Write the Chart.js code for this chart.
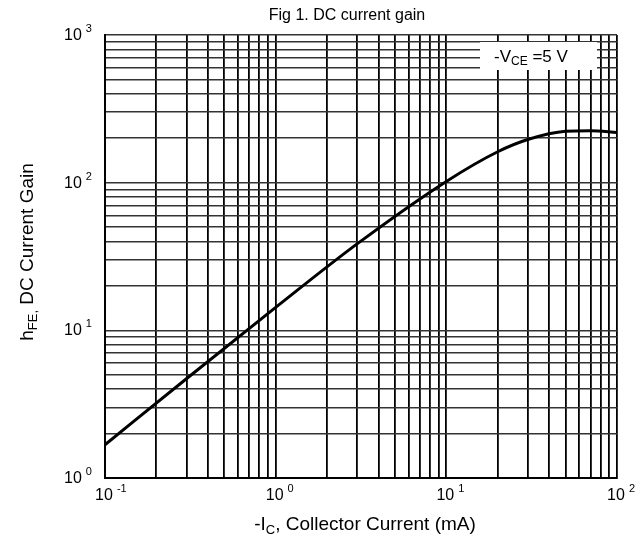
<!DOCTYPE html>
<html>
<head>
<meta charset="utf-8">
<script src="https://cdn.jsdelivr.net/npm/chart.js@4.4.1/dist/chart.umd.min.js"></script>
<style>
  body { margin: 0; background: #fff; }
</style>
</head>
<body>
<canvas id="gainChart" width="644" height="540"></canvas>
<script>
// collector current (mA) and DC current gain
var currentMA = [0.1, 0.3, 1, 3, 10, 20, 30, 50, 70, 100];
var gainHFE = [1.68, 4.7, 14.3, 38.5, 102, 162, 196, 223, 225, 219];

// grid lines (every 1..9 of each decade)
var xGridValues = [0.1, 0.2, 0.3, 0.4, 0.5, 0.6, 0.7, 0.8, 0.9,
                   1, 2, 3, 4, 5, 6, 7, 8, 9,
                   10, 20, 30, 40, 50, 60, 70, 80, 90, 100];
var yGridValues = [1, 2, 3, 4, 5, 6, 7, 8, 9,
                   10, 20, 30, 40, 50, 60, 70, 80, 90,
                   100, 200, 300, 400, 500, 600, 700, 800, 900, 1000];

// decade labels: value and exponent shown
var xDecades = [0.1, 1, 10, 100];
var xExponents = ['-1', '0', '1', '2'];
var yDecades = [1, 10, 100, 1000];
var yExponents = ['0', '1', '2', '3'];

var FONT = 'Arial, "Liberation Sans", sans-serif';

// draws a base text followed by a sub- or superscript part
function drawScript(ctx, x, y, base, small, tail, size, smallSize, shift) {
    ctx.font = size + 'px ' + FONT;
    ctx.fillText(base, x, y);
    var w = ctx.measureText(base).width;
    ctx.font = smallSize + 'px ' + FONT;
    ctx.fillText(small, x + w, y + shift);
    var w2 = ctx.measureText(small).width;
    if (tail) {
        ctx.font = size + 'px ' + FONT;
        ctx.fillText(tail, x + w + w2, y);
    }
}

function scriptWidth(ctx, base, small, tail, size, smallSize) {
    ctx.font = size + 'px ' + FONT;
    var w = ctx.measureText(base).width + ctx.measureText(tail || '').width;
    ctx.font = smallSize + 'px ' + FONT;
    return w + ctx.measureText(small).width;
}

var textPlugin = {
    id: 'textPlugin',
    afterDraw: function(chart) {
        var ctx = chart.ctx;
        var xs = chart.scales.x, ys = chart.scales.y;
        ctx.save();
        ctx.fillStyle = '#000';
        ctx.textBaseline = 'alphabetic';
        ctx.textAlign = 'left';

        // title
        ctx.font = '16px ' + FONT;
        ctx.textAlign = 'center';
        ctx.fillText('Fig 1. DC current gain', 347, 20);
        ctx.textAlign = 'left';

        // y decade labels
        yDecades.forEach(function(v, i) {
            var py = ys.getPixelForValue(v);
            ctx.font = '16px ' + FONT;
            var w = ctx.measureText('10').width;
            ctx.fillText('10', 64, py + 5);
            ctx.font = '11px ' + FONT;
            ctx.fillText(yExponents[i], 64 + w + 4, py - 3);
        });

        // x decade labels
        xDecades.forEach(function(v, i) {
            var px = xs.getPixelForValue(v);
            ctx.font = '16px ' + FONT;
            var w = ctx.measureText('10').width;
            ctx.fillText('10', px - w / 2 - 1, 500);
            ctx.font = '11px ' + FONT;
            ctx.fillText(xExponents[i], px + w / 2 + 3, 492);
        });

        // x axis title
        var xw = scriptWidth(ctx, '-I', 'C', ', Collector Current (mA)', 19, 13);
        drawScript(ctx, 365 - xw / 2, 530, '-I', 'C', ', Collector Current (mA)', 19, 13, 4);

        // y axis title (rotated)
        ctx.save();
        ctx.translate(33, 252);
        ctx.rotate(-Math.PI / 2);
        var yw = scriptWidth(ctx, 'h', 'FE,', ' DC Current Gain', 19, 13);
        drawScript(ctx, -yw / 2, 0, 'h', 'FE,', ' DC Current Gain', 19, 13, 4);
        ctx.restore();

        // condition box
        ctx.fillStyle = '#fff';
        ctx.fillRect(480, 42, 117, 28);
        ctx.fillStyle = '#000';
        drawScript(ctx, 494, 62, '-V', 'CE', ' =5 V', 17, 12, 3);
        ctx.restore();
    }
};

var ctx1 = document.getElementById('gainChart').getContext('2d');
var gainChart = new Chart(ctx1, {
    type: 'line',
    data: {
        datasets: [{
            data: currentMA.map(function(x, i) { return { x: x, y: gainHFE[i] }; }),
            borderColor: '#000',
            borderWidth: 3,
            pointRadius: 0,
            fill: false,
            cubicInterpolationMode: 'monotone'
        }]
    },
    options: {
        responsive: false,
        animation: false,
        layout: { padding: { left: 105, right: 27, top: 35, bottom: 62 } },
        plugins: {
            legend: { display: false },
            title: { display: false },
            tooltip: { enabled: false }
        },
        scales: {
            x: {
                type: 'logarithmic',
                min: 0.1,
                max: 100,
                afterBuildTicks: function(scale) {
                    scale.ticks = xGridValues.map(function(v) { return { value: v }; });
                },
                ticks: { display: false },
                grid: { color: '#000', lineWidth: 1.8, drawTicks: false },
                border: { display: true, color: '#000', width: 2 }
            },
            y: {
                type: 'logarithmic',
                min: 1,
                max: 1000,
                afterBuildTicks: function(scale) {
                    scale.ticks = yGridValues.map(function(v) { return { value: v }; });
                },
                ticks: { display: false },
                grid: { color: '#333', lineWidth: 1.6, drawTicks: false },
                border: { display: true, color: '#000', width: 2 }
            }
        }
    },
    plugins: [textPlugin]
});
</script>
</body>
</html>
